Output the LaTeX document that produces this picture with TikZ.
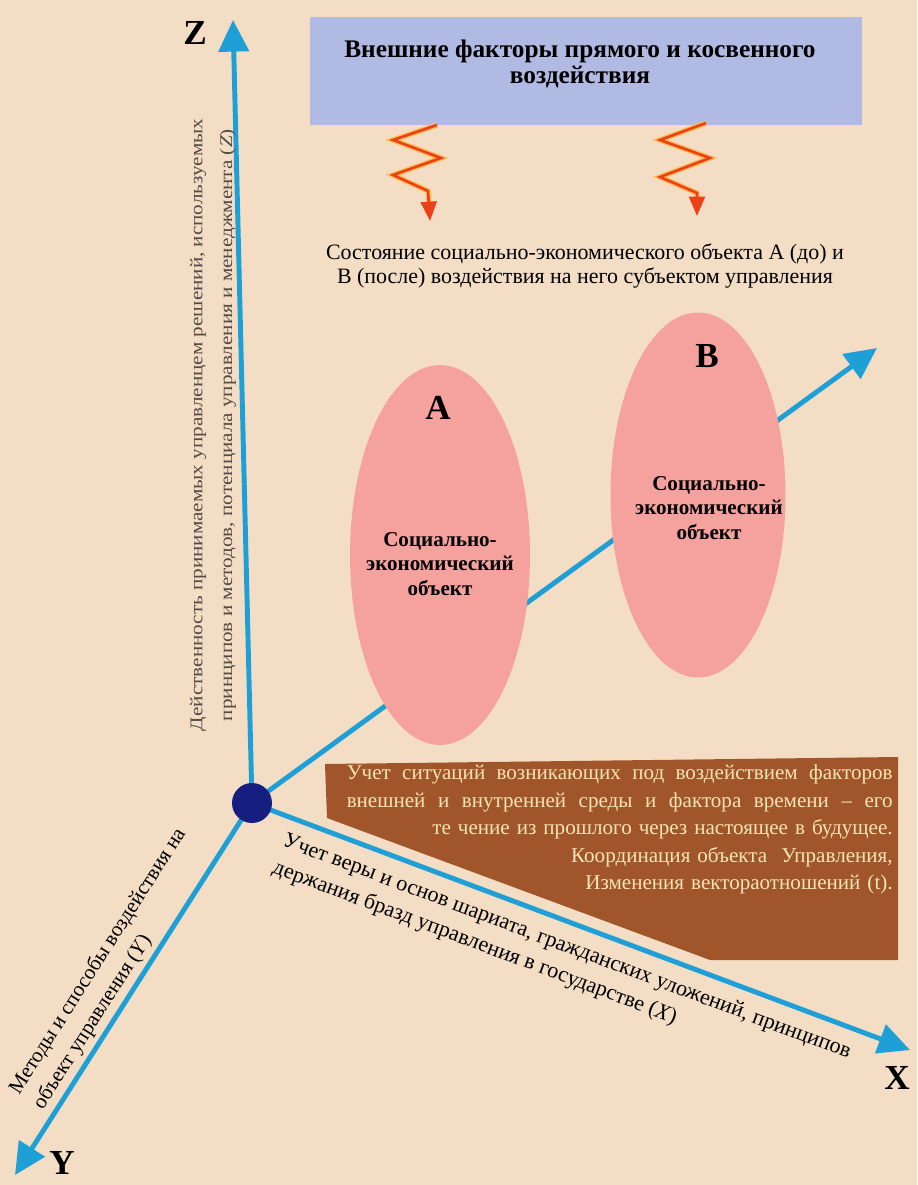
\documentclass[tikz,border=0pt]{standalone}
\usepackage{fontspec}
\setmainfont{Liberation Serif}
\usepackage{graphicx}
\usetikzlibrary{arrows.meta,shapes.geometric}
\definecolor{bg}{RGB}{243,221,196}
\definecolor{axisblue}{RGB}{30,160,215}
\definecolor{dotblue}{RGB}{22,30,128}
\definecolor{boxblue}{RGB}{176,186,226}
\definecolor{pinkell}{RGB}{245,162,158}
\definecolor{brownbox}{RGB}{160,86,42}
\definecolor{browntext}{RGB}{247,228,178}
\definecolor{zigred}{RGB}{238,64,24}
\definecolor{zigglow}{RGB}{250,190,80}
\definecolor{ztext}{RGB}{85,75,70}
\begin{document}
\begin{tikzpicture}[x=0.02cm,y=0.02cm,
  axis/.style={draw=axisblue, line width=2.8pt, -{Triangle[length=18pt,width=17pt]}},
  axlabel/.style={font=\bfseries\fontsize{20}{22}\selectfont, inner sep=0},
  axtext/.style={font=\fontsize{12}{16}\selectfont, align=left, inner sep=0, anchor=north west},
  objell/.style={ellipse, fill=pinkell, draw=none, inner sep=0},
  objtext/.style={font=\bfseries\fontsize{12}{14}\selectfont, align=center, inner sep=0},
  objletter/.style={font=\bfseries\fontsize{20}{22}\selectfont, inner sep=0},
  zigglowst/.style={draw=zigglow, line width=3pt, line join=miter},
  zigst/.style={draw=zigred, line width=1.5pt, line join=miter, -{Triangle[length=11pt,width=9pt]}},
  dotst/.style={circle, fill=dotblue, minimum size=0.8cm, inner sep=0}
]
\useasboundingbox (0,0) rectangle (917,-1185);
\fill[bg] (0,0) rectangle (917,-1185);

% top box
\node[fill=boxblue, minimum width=11.04cm, minimum height=2.16cm, inner sep=0] (box) at (586,-71) {};
\node[font=\bfseries\fontsize{14.4}{14.5}\selectfont, align=center, inner sep=0] (title) at (580,-64)
  {Внешние факторы прямого и косвенного\\воздействия};

% subtitle
\node[font=\fontsize{12.5}{13.6}\selectfont, align=center, inner sep=0] (sub) at (585,-266)
  {Состояние социально-экономического объекта А (до) и\\В (после) воздействия на него субъектом управления};

% zigzag arrows
\coordinate (zA) at (437,-125);
\coordinate (zB) at (706,-123);
\draw[zigglowst] (zA) -- ++(-44,-15) -- ++(48,-18) -- ++(-48,-17) -- ++(35,-16) -- ++(2,-20);
\draw[zigst] (zA) -- ++(-44,-15) -- ++(48,-18) -- ++(-48,-17) -- ++(35,-16) -- ++(2,-30);
\draw[zigglowst] (zB) -- ++(-46,-17) -- ++(50,-18) -- ++(-50,-19) -- ++(37,-16) -- ++(0,-13);
\draw[zigst] (zB) -- ++(-46,-17) -- ++(50,-18) -- ++(-50,-19) -- ++(37,-16) -- ++(0,-23);

% brown box
\fill[brownbox] (325,-764) -- (898,-757) -- (898,-960) -- (710,-960) -- (327,-818) -- cycle;
\node[font=\fontsize{12}{15.6}\selectfont, color=browntext, text width=10.92cm, align=right, inner sep=0, anchor=north east] (brown) at (893,-765)
  {\makebox[10.92cm][s]{Учет\hfill ситуаций\hfill возникающих\hfill под\hfill воздействием\hfill факторов}\\
   \makebox[10.92cm][s]{внешней\hfill и\hfill внутренней\hfill среды\hfill и\hfill фактора\hfill времени\hfill –\hfill его}\\
   те чение из прошлого через настоящее в будущее.\\
   Координация объекта\ \ Управления,\\
   Изменения вектораотношений (t).};

% axes
\coordinate (O) at (252,-803);
\coordinate (tZ) at (233,-20);
\coordinate (tY) at (15,-1175);
\coordinate (tX) at (910,-1050);
\coordinate (tT) at (877,-348);
\draw[axis] (O) -- (tT);
\draw[axis] (O) -- (tZ);
\draw[axis] (O) -- (tY);
\draw[axis] (O) -- (tX);
\node[dotst] (origin) at (O) {};

% ellipses
\node[objell, minimum width=3.6cm, minimum height=7.6cm] (ellA) at (440,-555) {};
\node[objell, minimum width=3.5cm, minimum height=7.3cm] (ellB) at (698,-495) {};
\node[objletter] (labA) at (438,-408) {A};
\node[objletter] (labB) at (707,-356) {B};
\node[objtext] (txtA) at (440,-564) {Социально-\\экономический\\объект};
\node[objtext] (txtB) at (709,-508) {Социально-\\экономический\\объект};

% axis labels
\node[axlabel] (lZ) at (195,-33) {Z};
\node[axlabel] (lY) at (62,-1163) {Y};
\node[axlabel] (lX) at (897,-1078) {X};

% axis texts
\node[axtext, font=\fontsize{12.6}{16.4}\selectfont, rotate=-20.6] (xt) at (287,-831)
  {Учет веры и основ шариата, гражданских уложений, принципов\\держания бразд управления в государстве (\textit{X})};
\node[axtext, rotate=57.5] (yt) at (6,-1087)
  {Методы и способы воздействия на\\объект управления (\textit{Y})};
\node[font=\fontsize{10.2}{17}\selectfont, color=ztext, align=center, inner sep=0, rotate=90] (zt) at (213,-425)
  {\scalebox{1.18}[1]{Действенность принимаемых управленцем решений, используемых}\\
   \scalebox{1.18}[1]{принципов и методов, потенциала управления и менеджмента (\textit{Z})}};
\end{tikzpicture}
\end{document}
